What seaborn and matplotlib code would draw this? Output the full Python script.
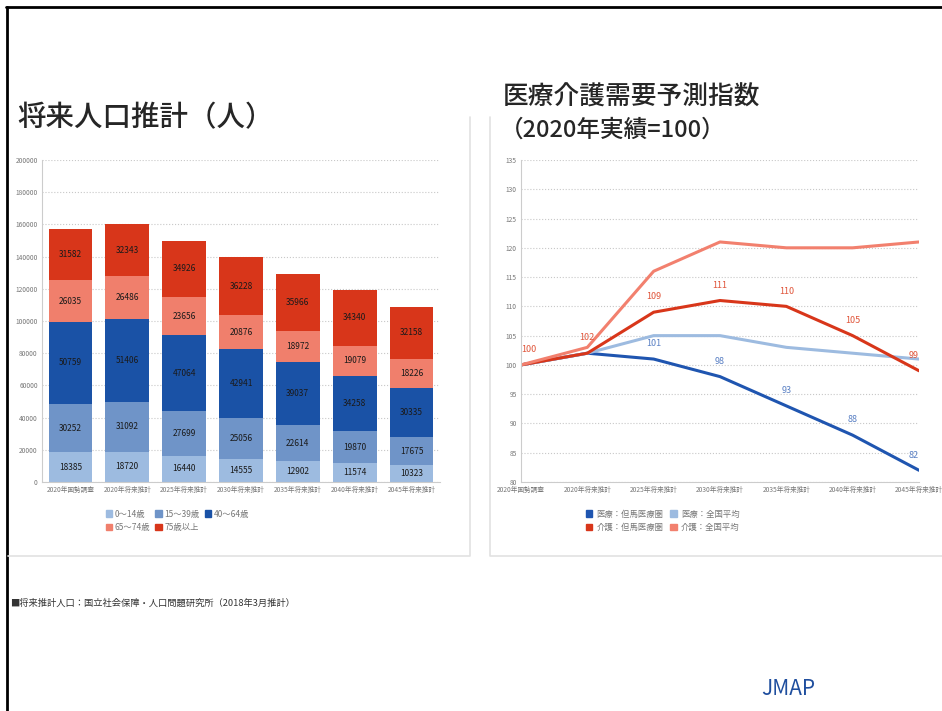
import matplotlib
matplotlib.use('Agg')
import matplotlib.pyplot as plt
from matplotlib.lines import Line2D
from matplotlib.patches import Patch
import seaborn as sns
import pandas as pd

# 将来人口推計 データ
years = ['2020年国勢調査', '2020年将来推計', '2025年将来推計', '2030年将来推計',
         '2035年将来推計', '2040年将来推計', '2045年将来推計']
age_groups = ['0～14歳', '15～39歳', '40～64歳', '65～74歳', '75歳以上']
pop_0_14 = [18385, 18720, 16440, 14555, 12902, 11574, 10323]
pop_15_39 = [30252, 31092, 27699, 25056, 22614, 19870, 17675]
pop_40_64 = [50759, 51406, 47064, 42941, 39037, 34258, 30335]
pop_65_74 = [26035, 26486, 23656, 20876, 18972, 19079, 18226]
pop_75 = [31582, 32343, 34926, 36228, 35966, 34340, 32158]

# 医療介護需要予測指数
series_names = ['医療：但馬医療圏', '医療：全国平均', '介護：但馬医療圏', '介護：全国平均']
iryo_tajima = [100, 102, 101, 98, 93, 88, 82]
iryo_zenkoku = [100, 102, 105, 105, 103, 102, 101]
kaigo_tajima = [100, 102, 109, 111, 110, 105, 99]
kaigo_zenkoku = [100, 103, 116, 121, 120, 120, 121]

bar_colors = ['#9dbbe0', '#6f94c8', '#1a52a6', '#f07f6c', '#d8361a']
line_colors = ['#1f55b0', '#9dbbe0', '#d8361a', '#f2806e']

sns.set_style('white')
plt.rcParams['font.family'] = ['Noto Sans CJK JP', 'DejaVu Sans']

W, H = 942, 711
fig = plt.figure(figsize=(W / 100, H / 100), dpi=100)


def rect(x0, y0, x1, y1):
    return [x0 / W, 1 - y1 / H, (x1 - x0) / W, (y1 - y0) / H]


def fline(xs, ys, **kw):
    fig.add_artist(Line2D([x / W for x in xs], [1 - y / H for y in ys],
                          transform=fig.transFigure, **kw))


# スライド枠とパネル枠
fline([6, W], [7, 7], color='black', lw=2)
fline([7, 7], [7, H], color='black', lw=2)
fline([470, 470, 8], [117, 556, 556], color='#e2e2e2', lw=1.2)
fline([490, 490, W], [117, 556, 556], color='#e2e2e2', lw=1.2)

# タイトル
fig.text(17 / W, 1 - 118 / H, '将来人口推計（人）', fontsize=20.5, va='center',
         fontweight='medium')
fig.text(503 / W, 1 - 97 / H, '医療介護需要予測指数', fontsize=18.5, va='center',
         fontweight='medium')
fig.text(500 / W, 1 - 130 / H, '（2020年実績=100）', fontsize=17, va='center',
         fontweight='medium')

# ---- 積み上げ棒グラフ ----
ax1 = fig.add_axes(rect(42, 160, 440, 482))
pop_df = pd.DataFrame({'year': years, age_groups[0]: pop_0_14, age_groups[1]: pop_15_39,
                       age_groups[2]: pop_40_64, age_groups[3]: pop_65_74,
                       age_groups[4]: pop_75})
cum = pop_df[age_groups].cumsum(axis=1)
for i in range(len(age_groups) - 1, -1, -1):
    sns.barplot(x=pop_df['year'], y=cum[age_groups[i]], color=bar_colors[i],
                width=0.77, saturation=1, ax=ax1, edgecolor='none')
for j in range(len(years)):
    for i, g in enumerate(age_groups):
        mid = cum.loc[j, g] - pop_df.loc[j, g] / 2
        ax1.text(j, mid, str(pop_df.loc[j, g]), ha='center', va='center',
                 fontsize=6, color='#1a1a1a')
ax1.set_ylim(0, 200000)
ax1.set_yticks(range(0, 200001, 20000))
ax1.set_xlim(-0.5, 6.5)
ax1.set_xlabel('')
ax1.set_ylabel('')
ax1.grid(axis='y', linestyle=':', color='#c8c8c8', lw=0.8)
ax1.set_axisbelow(True)
for s in ['top', 'right']:
    ax1.spines[s].set_visible(False)
for s in ['left', 'bottom']:
    ax1.spines[s].set_color('#cccccc')
    ax1.spines[s].set_linewidth(0.8)
ax1.tick_params(axis='both', labelsize=4.8, colors='#777777', length=2, width=0.5, pad=1)

# 凡例は行方向に並べる (列優先で埋まるので順番を入れ替える)
order1 = [0, 3, 1, 4, 2]
handles1 = [Patch(color=bar_colors[k], label=age_groups[k]) for k in order1]
fig.legend(handles=handles1, ncol=3, loc='upper left',
           bbox_to_anchor=(98 / W, 1 - 502 / H), frameon=False, fontsize=6,
           handlelength=0.8, handleheight=0.8, handletextpad=0.3, columnspacing=0.6,
           labelspacing=0.5, labelcolor='#777777')

# ---- 折れ線グラフ ----
ax2 = fig.add_axes(rect(521, 160, 919, 482))
line_df = pd.DataFrame({'x': list(range(len(years))) * 4,
                        'value': iryo_tajima + iryo_zenkoku + kaigo_tajima + kaigo_zenkoku,
                        'series': sum([[n] * len(years) for n in series_names], [])})
sns.lineplot(data=line_df, x='x', y='value', hue='series', hue_order=series_names,
             palette=line_colors, lw=2.2, ax=ax2, legend=False)
ax2.set_xlim(0, 6)
ax2.set_ylim(80, 135)
ax2.set_yticks(range(80, 136, 5))
ax2.set_xticks(range(len(years)))
ax2.set_xticklabels(years)
ax2.set_xlabel('')
ax2.set_ylabel('')
ax2.grid(axis='y', linestyle=':', color='#c8c8c8', lw=0.8)
for s in ['top', 'right']:
    ax2.spines[s].set_visible(False)
for s in ['left', 'bottom']:
    ax2.spines[s].set_color('#cccccc')
    ax2.spines[s].set_linewidth(0.8)
ax2.tick_params(axis='both', labelsize=4.8, colors='#777777', length=2, width=0.5, pad=1)

# データラベル
for j, v in enumerate(kaigo_tajima):
    ha = 'left' if j == 0 else ('right' if j == len(years) - 1 else 'center')
    ax2.annotate(str(v), (j, v), xytext=(0, 11), textcoords='offset points',
                 ha=ha, va='center', fontsize=6.5, color='#e0553a')
for j, v in enumerate(iryo_tajima):
    if j < 2:
        continue
    ha = 'right' if j == len(years) - 1 else 'center'
    ax2.annotate(str(v), (j, v), xytext=(0, 11), textcoords='offset points',
                 ha=ha, va='center', fontsize=6.5, color='#5a80c4')

order2 = [0, 2, 1, 3]
handles2 = [Patch(color=line_colors[k], label=series_names[k]) for k in order2]
fig.legend(handles=handles2, ncol=2, loc='upper left',
           bbox_to_anchor=(578 / W, 1 - 502 / H), frameon=False, fontsize=6,
           handlelength=0.8, handleheight=0.8, handletextpad=0.5, columnspacing=0.8,
           labelspacing=0.5, labelcolor='#777777')

# 出典・ロゴ
fig.text(10 / W, 1 - 603 / H, '■将来推計人口：国立社会保障・人口問題研究所（2018年3月推計）',
         fontsize=6.7, va='center', color='#333333')
fig.text(761 / W, 1 - 689 / H, 'JMAP', fontsize=15, va='center', color='#1f4e9e')

fig.savefig('out.png', dpi=100)
